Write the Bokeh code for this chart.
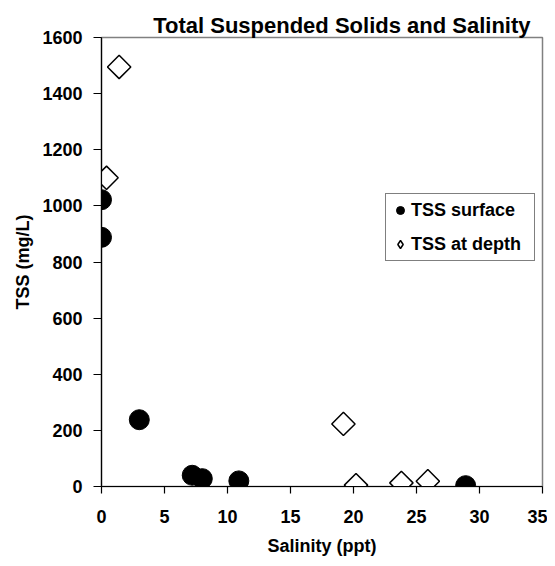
import math
from bokeh.plotting import figure
from bokeh.models import Range1d, FixedTicker, Legend, LegendItem
from bokeh.embed import file_html
from bokeh.resources import INLINE

# Data
surface_salinity = [0.0, 0.0, 3.0, 7.2, 8.0, 10.9, 28.9]
surface_tss = [1022, 888, 238, 40, 28, 20, 3]
depth_salinity = [1.4, 0.4, 19.2, 20.2, 23.8, 25.9]
depth_tss = [1495, 1100, 223, 5, 13, 19]

x_ticks = [0, 5, 10, 15, 20, 25, 30, 35]
y_ticks = [0, 200, 400, 600, 800, 1000, 1200, 1400, 1600]

FONT = "Liberation Sans"

p = figure(width=547, height=558, output_backend="svg", toolbar_location=None,
           x_range=Range1d(0, 35), y_range=Range1d(0, 1600),
           min_border_left=101, min_border_right=5, min_border_top=37,
           min_border_bottom=70, title="Total Suspended Solids and Salinity")

p.title.text_font = FONT
p.title.text_font_style = "bold"
p.title.text_font_size = "22px"
p.title.text_color = "black"
p.title.align = "right"
p.title.offset = 12
p.title.standoff = 0

p.grid.visible = False
p.outline_line_color = "#808080"
p.outline_line_width = 1.5
p.background_fill_color = "white"
p.border_fill_color = "white"

for ax in (p.xaxis[0], p.yaxis[0]):
    ax.axis_line_color = "black"
    ax.axis_line_width = 1.2
    ax.major_tick_line_color = "black"
    ax.major_tick_line_width = 1.2
    ax.minor_tick_line_color = None
    ax.major_tick_in = 0
    ax.major_label_text_font = FONT
    ax.major_label_text_font_style = "bold"
    ax.major_label_text_font_size = "18px"
    ax.major_label_text_color = "black"
    ax.axis_label_text_font = FONT
    ax.axis_label_text_font_style = "bold"
    ax.axis_label_text_font_size = "18px"
    ax.axis_label_text_color = "black"

p.xaxis[0].ticker = FixedTicker(ticks=x_ticks)
p.yaxis[0].ticker = FixedTicker(ticks=y_ticks)
p.xaxis[0].major_tick_out = 7
p.yaxis[0].major_tick_out = 8
p.xaxis[0].major_label_standoff = 16
p.yaxis[0].major_label_standoff = 11
p.xaxis[0].axis_label = "Salinity (ppt)"
p.yaxis[0].axis_label = "TSS (mg/L)"
p.xaxis[0].axis_label_standoff = 10
p.yaxis[0].axis_label_standoff = 6

r_surf = p.scatter(surface_salinity, surface_tss, marker="circle", size=20,
                   fill_color="black", line_color="black")
# legend key glyph (diamond), hidden beneath the rotated squares below
r_depth_key = p.scatter(depth_salinity, depth_tss, marker="diamond", size=14,
                        fill_color="white", line_color="black", line_width=1.5)
r_depth = p.scatter(depth_salinity, depth_tss, marker="square", size=16.5,
                    angle=math.pi / 4, fill_color="white", line_color="black",
                    line_width=1.5)

legend = Legend(items=[LegendItem(label="TSS surface", renderers=[r_surf]),
                       LegendItem(label="TSS at depth", renderers=[r_depth_key])],
                location=(284, 225))
legend.label_text_font = FONT
legend.label_text_font_style = "bold"
legend.label_text_font_size = "18px"
legend.label_text_color = "black"
legend.padding = 4
legend.spacing = 10
legend.glyph_width = 20
legend.glyph_height = 24
legend.label_height = 24
legend.label_width = 119
legend.label_standoff = 1
legend.border_line_color = "black"
legend.border_line_width = 1
legend.background_fill_color = "white"
legend.background_fill_alpha = 1
legend.margin = 0
p.add_layout(legend, "center")

open("out.html", "w").write(file_html(p, INLINE))
